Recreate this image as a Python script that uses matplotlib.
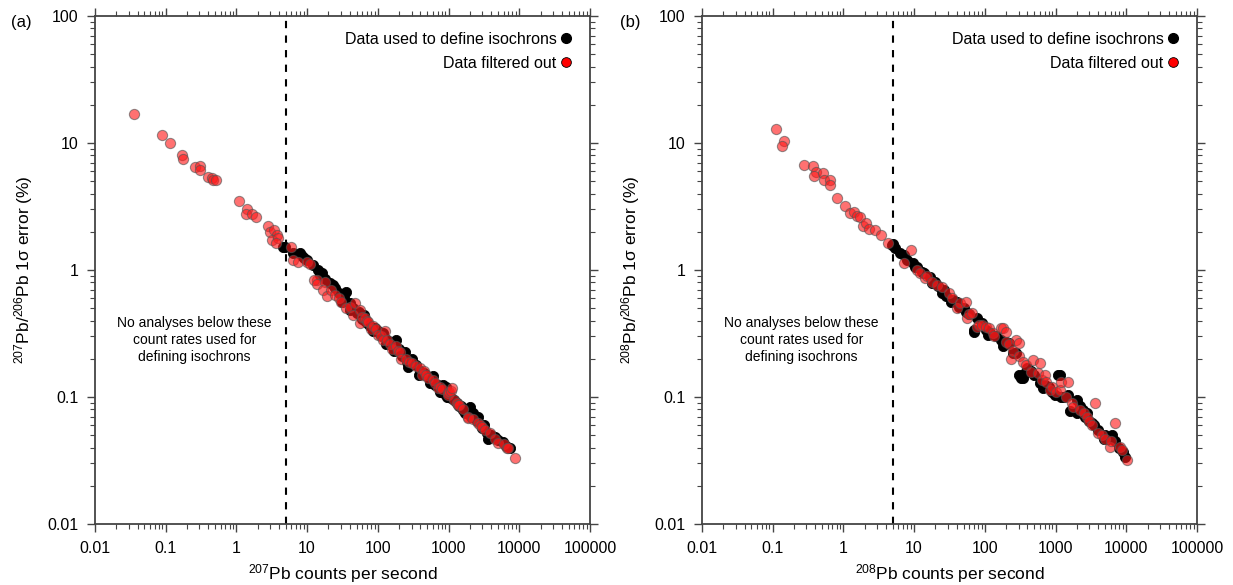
import matplotlib
matplotlib.use("Agg")
import matplotlib.pyplot as plt
from matplotlib.lines import Line2D
from matplotlib.ticker import LogLocator, FixedLocator, FixedFormatter, NullFormatter

plt.rcParams["font.family"] = ["Liberation Sans", "DejaVu Sans"]
plt.rcParams["mathtext.fontset"] = "custom"
plt.rcParams["mathtext.rm"] = "Liberation Sans"
plt.rcParams["mathtext.it"] = "Liberation Sans:italic"
plt.rcParams["mathtext.default"] = "regular"

# ---- panel (a): 207Pb counts vs 207Pb/206Pb error ----
a_used_cps = [4.6, 4.8, 6.4, 7.9, 9.0, 8.5, 10, 12, 14.4, 15.2, 16, 18, 21, 23.3, 25, 28,
              31, 33, 36, 40, 40, 45, 50, 55, 60, 63, 65, 70, 78, 85, 90, 100, 106, 115,
              120, 130, 134, 150, 160, 170, 180, 200, 220, 240, 260, 270, 300, 350, 380,
              400, 450, 500, 550, 550, 600, 650, 700, 750, 800, 845, 900, 930, 940, 1000,
              1100, 1200, 1300, 1400, 1500, 1600, 1710, 1800, 2010, 2100, 2200, 2500,
              2640, 2950, 3200, 3500, 3660, 4000, 4500, 5000, 5960, 6500, 7410]
a_used_err = [1.52, 1.52, 1.35, 1.35, 1.24, 1.30, 1.20, 1.10, 1.00, 0.91, 0.95, 0.85, 0.79,
              0.76, 0.72, 0.66, 0.56, 0.60, 0.67, 0.55, 0.48, 0.50, 0.456, 0.47, 0.41,
              0.44, 0.40, 0.38, 0.36, 0.33, 0.35, 0.33, 0.316, 0.30, 0.32, 0.26, 0.28,
              0.27, 0.25, 0.23, 0.28, 0.24, 0.21, 0.227, 0.19, 0.173, 0.20, 0.18, 0.15,
              0.16, 0.155, 0.145, 0.13, 0.14, 0.145, 0.125, 0.125, 0.110, 0.11, 0.124,
              0.105, 0.12, 0.10, 0.10, 0.098, 0.0946, 0.09, 0.085, 0.085, 0.079, 0.0745,
              0.08, 0.084, 0.07, 0.075, 0.065, 0.070, 0.0567, 0.06, 0.052, 0.047, 0.05,
              0.048, 0.046, 0.0445, 0.041, 0.0395]

a_filt_cps = [0.0356, 0.0877, 0.114, 0.172, 0.175, 0.262, 0.305, 0.31, 0.393, 0.456, 0.47,
              0.51, 1.10, 1.41, 1.35, 1.64, 1.91, 2.77, 3.0, 3.44, 3.72, 3.16, 3.84, 3.6,
              5.9, 6.4, 7.5, 9.9, 11.0, 13.7, 12.4, 14, 17.9, 16.9, 19, 22, 24.7, 28, 30,
              35, 40, 45, 47, 56, 56, 60, 65, 70, 73, 81, 85, 95, 101, 110, 120, 125, 134,
              150, 157, 180, 190, 204, 215, 250, 280, 300, 350, 395, 420, 450, 480, 520,
              600, 640, 700, 750, 800, 990, 990, 1000, 1100, 1110, 1200, 1300, 1380,
              1390, 1600, 1900, 1900, 2200, 2640, 2800, 3000, 3280, 3860, 4500, 5070,
              6000, 6650, 7000, 8730]
a_filt_err = [16.8, 11.6, 10.0, 8.0, 7.45, 6.5, 6.6, 6.1, 5.4, 5.33, 5.1, 5.15, 3.47,
              3.04, 2.76, 2.74, 2.60, 2.21, 2.0, 2.07, 1.89, 1.72, 1.77, 1.64, 1.52,
              1.20, 1.16, 1.16, 1.11, 0.83, 0.83, 0.78, 0.81, 0.70, 0.62, 0.70, 0.64,
              0.60, 0.56, 0.50, 0.51, 0.44, 0.55, 0.48, 0.38, 0.43, 0.42, 0.40, 0.39,
              0.34, 0.36, 0.34, 0.31, 0.30, 0.28, 0.33, 0.28, 0.26, 0.24, 0.25, 0.23,
              0.227, 0.20, 0.20, 0.19, 0.184, 0.175, 0.168, 0.149, 0.16, 0.15, 0.14,
              0.135, 0.128, 0.117, 0.12, 0.115, 0.107, 0.104, 0.11, 0.112, 0.117, 0.095,
              0.09, 0.0865, 0.0865, 0.08, 0.070, 0.068, 0.067, 0.062, 0.06, 0.058, 0.055,
              0.0518, 0.047, 0.0432, 0.043, 0.0395, 0.040, 0.0329]

# ---- panel (b): 208Pb counts vs 208Pb/206Pb error ----
b_used_cps = [4.8, 5.0, 5.4, 6.3, 7.1, 8, 9.8, 10.3, 11, 12.9, 14, 16.9, 17.9, 20, 22, 25,
              26.2, 28, 32.7, 36, 40.6, 43, 50, 53.4, 60, 70, 70, 78, 90, 103, 110, 120,
              143, 169, 180, 200, 222, 248, 280, 300, 320, 344, 364, 400, 450, 500, 600,
              664, 700, 800, 900, 975, 1086, 1148, 1200, 1300, 1510, 1590, 1980, 1980,
              2200, 2470, 2600, 2800, 3000, 3300, 3500, 4000, 4770, 5000, 5500, 6260,
              7000, 8000, 9000, 9700]
b_used_err = [1.57, 1.60, 1.48, 1.35, 1.31, 1.20, 1.13, 1.06, 1.05, 0.97, 0.95, 0.885,
              0.785, 0.80, 0.75, 0.66, 0.70, 0.62, 0.56, 0.58, 0.56, 0.51, 0.50, 0.47,
              0.45, 0.337, 0.326, 0.417, 0.38, 0.337, 0.31, 0.32, 0.30, 0.28, 0.25, 0.27,
              0.265, 0.22, 0.22, 0.15, 0.14, 0.14, 0.154, 0.17, 0.16, 0.15, 0.13, 0.117,
              0.125, 0.12, 0.11, 0.104, 0.149, 0.149, 0.10, 0.10, 0.104, 0.077, 0.095,
              0.0745, 0.085, 0.079, 0.07, 0.075, 0.065, 0.062, 0.06, 0.055, 0.047, 0.05,
              0.047, 0.0502, 0.045, 0.04, 0.037, 0.0335]

b_filt_cps = [0.11, 0.144, 0.134, 0.276, 0.374, 0.41, 0.39, 0.51, 0.53, 0.65, 0.64, 0.82,
              1.07, 1.25, 1.39, 1.54, 1.7, 1.9, 2.07, 2.31, 2.78, 3.35, 4.3, 7.1, 9.1,
              10.9, 12, 14.4, 15, 18, 21.1, 24.8, 31, 34.5, 40, 45, 53.4, 56.5, 60, 66.6,
              78, 83, 92, 103, 115, 130, 136, 169, 178, 199, 199, 220, 234, 250, 276,
              300, 308, 350, 384, 452, 478, 563, 596, 650, 701, 740, 826, 900, 1000, 1150,
              1210, 1425, 1510, 1700, 1780, 2210, 2500, 2750, 3000, 3240, 3620, 4040,
              4500, 5040, 5930, 6000, 7000, 8240, 8700, 10240]
b_filt_err = [12.8, 10.4, 9.5, 6.75, 6.6, 5.9, 5.5, 5.8, 5.1, 5.15, 4.7, 3.69, 3.2,
              2.8, 2.86, 2.68, 2.6, 2.2, 2.36, 2.09, 2.07, 1.88, 1.62, 1.13, 1.44, 1.0,
              0.95, 0.86, 0.90, 0.80, 0.76, 0.74, 0.656, 0.60, 0.50, 0.55, 0.56, 0.417,
              0.45, 0.456, 0.358, 0.37, 0.369, 0.358, 0.35, 0.32, 0.30, 0.35, 0.35,
              0.326, 0.27, 0.26, 0.20, 0.23, 0.28, 0.21, 0.265, 0.19, 0.179, 0.158,
              0.195, 0.154, 0.184, 0.135, 0.149, 0.132, 0.113, 0.12, 0.11, 0.113, 0.132,
              0.10, 0.132, 0.09, 0.084, 0.079, 0.075, 0.070, 0.065, 0.060, 0.089,
              0.0518, 0.05, 0.047, 0.0406, 0.045, 0.0628, 0.0406, 0.0383, 0.0319]

cutoff = 5
x_ticks = [0.01, 0.1, 1, 10, 100, 1000, 10000, 100000]
x_tick_labels = ["0.01", "0.1", "1", "10", "100", "1000", "10000", "100000"]
y_ticks = [0.01, 0.1, 1, 10, 100]
y_tick_labels = ["0.01", "0.1", "1", "10", "100"]
note = "No analyses below these\ncount rates used for\ndefining isochrons"

fig = plt.figure(figsize=(12.33, 5.85), dpi=100)
panels = [
    (0.0770, 0.009, "(a)", a_used_cps, a_used_err, a_filt_cps, a_filt_err,
     "$^{207}$Pb counts per second", "$^{207}$Pb/$^{206}$Pb 1σ error (%)"),
    (0.5693, 0.503, "(b)", b_used_cps, b_used_err, b_filt_cps, b_filt_err,
     "$^{208}$Pb counts per second", "$^{208}$Pb/$^{206}$Pb 1σ error (%)"),
]

for left, tag_x, tag, ux, uy, fx, fy, xlab, ylab in panels:
    ax = fig.add_axes([left, 0.1043, 0.4015, 0.8684])
    ax.set_xscale("log")
    ax.set_yscale("log")
    ax.set_xlim(0.01, 100000)
    ax.set_ylim(0.01, 100)

    ax.scatter(ux, uy, s=54, c="black", edgecolors="black", linewidths=0.6, zorder=3)
    ax.scatter(fx, fy, s=54, c="#ff1a1a", edgecolors="#555555", linewidths=0.8,
               alpha=0.62, zorder=4)
    ax.axvline(cutoff, color="black", ls=(0, (3.5, 3.5)), lw=1.5, zorder=2)

    ax.text(0.255, 0.28, note, ha="center", va="center", fontsize=10, linespacing=1.25)

    # ticks: outward on all four sides, labels only left and bottom
    ax.xaxis.set_major_locator(FixedLocator(x_ticks))
    ax.xaxis.set_major_formatter(FixedFormatter(x_tick_labels))
    ax.yaxis.set_major_locator(FixedLocator(y_ticks))
    ax.yaxis.set_major_formatter(FixedFormatter(y_tick_labels))
    ax.xaxis.set_minor_locator(LogLocator(base=10, subs=range(2, 10), numticks=20))
    ax.yaxis.set_minor_locator(LogLocator(base=10, subs=range(2, 10), numticks=20))
    ax.xaxis.set_minor_formatter(NullFormatter())
    ax.yaxis.set_minor_formatter(NullFormatter())
    ax.tick_params(which="both", direction="out", top=True, right=True,
                   color="#444444", labelsize=11.5, pad=6)
    ax.tick_params(which="major", length=6, width=1.0)
    ax.tick_params(which="minor", length=3.5, width=0.8)
    for sp in ax.spines.values():
        sp.set_color("#444444")
        sp.set_linewidth(1.3)

    ax.set_xlabel(xlab, fontsize=12.5, labelpad=5)
    ax.set_ylabel(ylab, fontsize=12.5, labelpad=9)

    handles = [
        Line2D([], [], ls="none", marker="o", ms=7, mfc="black", mec="black"),
        Line2D([], [], ls="none", marker="o", ms=7, mfc="#ff0000", mec="black", mew=0.6),
    ]
    ax.legend(handles, ["Data used to define isochrons", "Data filtered out"],
              loc="upper right", frameon=False, markerfirst=False, fontsize=11.5,
              handletextpad=0.1, handlelength=1.0, labelspacing=0.55,
              borderaxespad=0.6, alignment="right")

    fig.text(tag_x, 0.962, tag, fontsize=12, ha="left", va="center")

fig.savefig("out.png", dpi=100)
